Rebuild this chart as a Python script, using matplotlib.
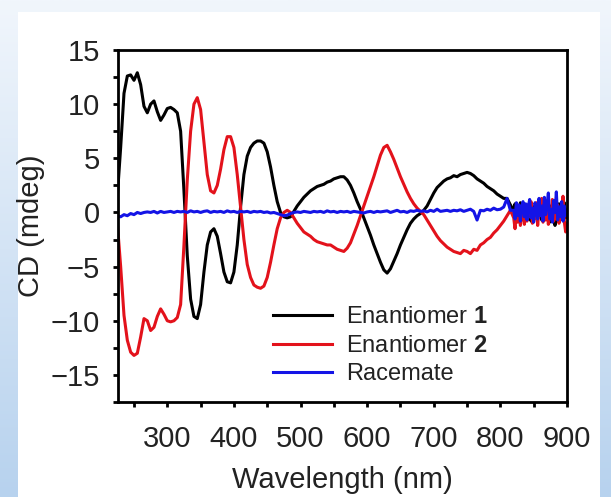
import numpy as np
import matplotlib
matplotlib.use("Agg")
import matplotlib.pyplot as plt
from matplotlib.patches import Rectangle
from matplotlib.colors import LinearSegmentedColormap

plt.rcParams['font.family'] = ['Liberation Sans', 'DejaVu Sans']
plt.rcParams['mathtext.fontset'] = 'custom'
plt.rcParams['mathtext.rm'] = 'Liberation Sans'
plt.rcParams['mathtext.bf'] = 'Liberation Sans:bold'

# ---------------- data ----------------
wl_smooth = np.arange(225, 816, 5)          # 225..815 nm, 5 nm step
wl_noise = np.arange(820, 901, 2)           # 820..900 nm, 2 nm step

enant1_smooth = [
    1.5, 6.0, 11.0, 12.6, 12.7, 12.2, 12.9, 11.8, 9.8, 9.2,
    10.0, 10.3, 9.3, 8.5, 9.0, 9.6, 9.7, 9.5, 9.2, 7.5,
    2.0, -4.0, -8.0, -9.6, -9.8, -8.5, -5.5, -3.0, -1.8, -1.5,
    -2.2, -3.8, -5.5, -6.4, -6.5, -5.5, -3.0, 0.5, 3.5, 5.2,
    6.0, 6.4, 6.6, 6.6, 6.4, 5.6, 4.2, 2.5, 1.0, 0.0,
    -0.4, -0.5, -0.4, 0.1, 0.6, 1.0, 1.4, 1.7, 2.0, 2.2,
    2.4, 2.5, 2.6, 2.8, 2.9, 3.1, 3.2, 3.3, 3.3, 3.0,
    2.5, 1.8, 1.0, 0.3, -0.5, -1.3, -2.1, -3.0, -3.8, -4.6,
    -5.3, -5.6, -5.2, -4.5, -3.8, -3.0, -2.3, -1.6, -1.0, -0.6,
    -0.3, -0.1, 0.2, 0.6, 1.2, 1.8, 2.3, 2.6, 2.9, 3.1,
    3.2, 3.4, 3.3, 3.5, 3.6, 3.7, 3.6, 3.4, 3.1, 2.9,
    2.7, 2.4, 2.2, 2.0, 1.7, 1.5, 1.3, 1.3, 0.7,
]
enant2_smooth = [
    -1.0, -5.0, -9.5, -11.8, -12.9, -13.2, -13.0, -11.5, -9.8, -10.0,
    -10.9, -10.6, -9.6, -8.9, -9.4, -10.0, -10.1, -10.0, -9.7, -8.5,
    -3.0, 3.0, 7.5, 10.0, 10.6, 9.5, 6.5, 3.5, 2.0, 1.8,
    2.5, 4.0, 5.8, 7.0, 7.0, 6.0, 3.5, 0.5, -2.5, -4.8,
    -6.0, -6.7, -6.9, -7.0, -6.8, -6.0, -4.6, -3.0, -1.5, -0.5,
    0.0, 0.2, 0.0, -0.5, -1.0, -1.4, -1.8, -2.0, -2.2, -2.5,
    -2.7, -2.8, -2.9, -3.0, -3.0, -3.2, -3.4, -3.5, -3.6, -3.3,
    -2.8, -2.0, -1.2, -0.3, 0.6, 1.5, 2.4, 3.3, 4.3, 5.3,
    6.0, 6.2, 5.6, 4.9, 4.1, 3.3, 2.6, 1.9, 1.3, 0.8,
    0.4, 0.1, -0.2, -0.7, -1.2, -1.7, -2.2, -2.6, -2.9, -3.2,
    -3.4, -3.6, -3.7, -3.8, -3.5, -3.6, -3.8, -3.4, -3.5, -3.0,
    -2.8, -2.5, -2.3, -1.9, -1.6, -1.2, -0.8, -0.3, 0.2,
]
racemate_smooth = [
    -0.3, -0.4, -0.2, -0.3, -0.1, -0.2, 0.0, -0.1, 0.0, 0.05,
    0.0, 0.1, -0.05, 0.1, 0.0, 0.05, 0.1, 0.0, 0.1, 0.05,
    0.1, 0.0, 0.15, 0.05, 0.1, 0.0, 0.1, 0.15, 0.0, 0.1,
    0.05, 0.1, 0.0, 0.15, 0.05, 0.1, 0.0, 0.1, 0.05, 0.1,
    0.0, 0.1, 0.05, 0.1, 0.0, 0.05, -0.05, 0.0, -0.1, -0.2,
    -0.3, -0.25, -0.1, 0.0, 0.05, 0.0, 0.1, 0.05, 0.0, 0.1,
    0.05, 0.1, 0.0, 0.15, 0.05, 0.1, 0.0, 0.1, 0.05, 0.1,
    0.0, 0.1, 0.05, 0.0, -0.05, 0.05, 0.1, 0.0, 0.1, 0.05,
    0.1, 0.15, 0.0, 0.1, 0.2, 0.05, 0.1, 0.0, 0.15, 0.1,
    0.2, 0.1, 0.15, 0.05, 0.2, 0.1, 0.3, 0.1, 0.15, 0.2,
    0.1, 0.2, 0.15, 0.25, 0.1, 0.2, 0.3, 0.1, -0.7, 0.2,
    0.15, 0.3, 0.2, 0.4, 0.25, 0.3, 0.5, 1.3, 0.2,
]
enant1_noise = [0.2, 0.8, -0.5, 0.6, -0.3, 0.9, -0.7, 0.3, 0.5, -0.6,
                0.7, -0.2, 0.4, -0.8, 0.6, 0.1, -0.4, 0.8, -0.6, 0.2,
                0.5, -0.7, 0.9, -0.3, 0.4, -0.5, 0.7, -0.9, 0.6, -0.2,
                0.3, -1.2, 0.5, -0.4, 0.8, -0.6, 0.2, -0.3, 0.9, -0.5, 0.1]
enant2_noise = [-0.5, -1.5, 0.3, -0.9, 0.5, -1.2, -0.2, 0.8, -1.1, 0.2,
                -0.8, 0.6, -0.4, 1.0, -1.0, 0.1, -0.6, 0.9, -1.2, 0.4,
                -0.3, 1.3, -0.9, 0.2, -0.7, 0.6, -1.1, 0.3, -0.5, 1.2,
                -0.8, 0.0, -0.6, 0.7, -1.0, 0.4, -0.3, 1.5, -0.9, -1.8, -1.0]
racemate_noise = [0.2, -0.6, 0.9, -0.3, 0.7, -0.8, 0.5, 1.0, -0.4, 0.8,
                  -0.7, 0.6, 1.2, -0.5, 0.4, -0.9, 0.9, 0.1, -0.6, 1.3,
                  -0.3, 0.6, -0.8, 1.4, -0.2, 0.7, 1.8, -0.6, 0.3, -0.9,
                  1.1, 0.0, 1.9, -0.7, 0.5, -0.4, 1.0, -0.8, 0.6, -0.3, 0.2]

series_labels = ["Enantiomer $\\mathbf{1}$", "Enantiomer $\\mathbf{2}$", "Racemate"]
series_colors = ["black", "#e3121b", "#1414e6"]

x_major = [300, 400, 500, 600, 700, 800, 900]
y_major = [-15, -10, -5, 0, 5, 10, 15]
y_labels = ["\u221215", "\u221210", "\u22125", "0", "5", "10", "15"]

wl = np.concatenate([wl_smooth, wl_noise])
e1 = np.concatenate([enant1_smooth, enant1_noise])
e2 = np.concatenate([enant2_smooth, enant2_noise])
rac = np.concatenate([racemate_smooth, racemate_noise])

# ---------------- figure ----------------
W, H = 611, 497
fig = plt.figure(figsize=(W / 100, H / 100), dpi=100)
fig.patch.set_facecolor("white")

# background frame (light blue gradient at the edges)
bg = fig.add_axes([0, 0, 1, 1], zorder=-10)
grad = np.linspace(0, 1, 256).reshape(-1, 1)
cmap = LinearSegmentedColormap.from_list("bg", ["#b7d2ee", "#f1f6fc"])
bg.imshow(grad, aspect="auto", cmap=cmap, extent=[0, W, 0, H], origin="lower")
bg.add_patch(Rectangle((18, 0), 582, H - 12, facecolor="white", edgecolor="none"))
bg.set_xlim(0, W)
bg.set_ylim(0, H)
bg.axis("off")

ax = fig.add_axes([118 / W, 1 - 402 / H, (567 - 118) / W, (402 - 50) / H])
ax.set_facecolor("white")

lw = 2.2
ax.plot(wl, e1, color=series_colors[0], lw=lw, label=series_labels[0])
ax.plot(wl, e2, color=series_colors[1], lw=lw, label=series_labels[1])
ax.plot(wl, rac, color=series_colors[2], lw=lw, label=series_labels[2])

ax.set_xlim(226, 900)
ax.set_ylim(-17.4, 15)
ax.set_xticks(x_major)
ax.set_xticks(np.arange(250, 900, 100), minor=True)
ax.set_yticks(y_major)
ax.set_yticklabels(y_labels)
ax.set_yticks(np.arange(-17.5, 15, 5), minor=True)

for s in ax.spines.values():
    s.set_linewidth(2.0)
ax.tick_params(which="both", direction="out", length=3.8, width=2.0,
               labelsize=21, colors="black")
ax.tick_params(axis="x", which="both", pad=13)
ax.tick_params(axis="y", which="both", pad=9)
for lbl in ax.get_xticklabels() + ax.get_yticklabels():
    lbl.set_color("#222222")

ax.set_xlabel("Wavelength (nm)", fontsize=21, color="#222222", labelpad=9)
ax.set_ylabel("CD (mdeg)", fontsize=21, color="#222222", labelpad=4)

leg = ax.legend(loc="lower right", fontsize=17, frameon=False,
                handlelength=2.5, handletextpad=0.6, labelspacing=0.28,
                borderaxespad=0.3, bbox_to_anchor=(0.86, 0.0))
for t in leg.get_texts():
    t.set_color("#222222")

fig.savefig("out.png", dpi=100, facecolor=fig.get_facecolor())
